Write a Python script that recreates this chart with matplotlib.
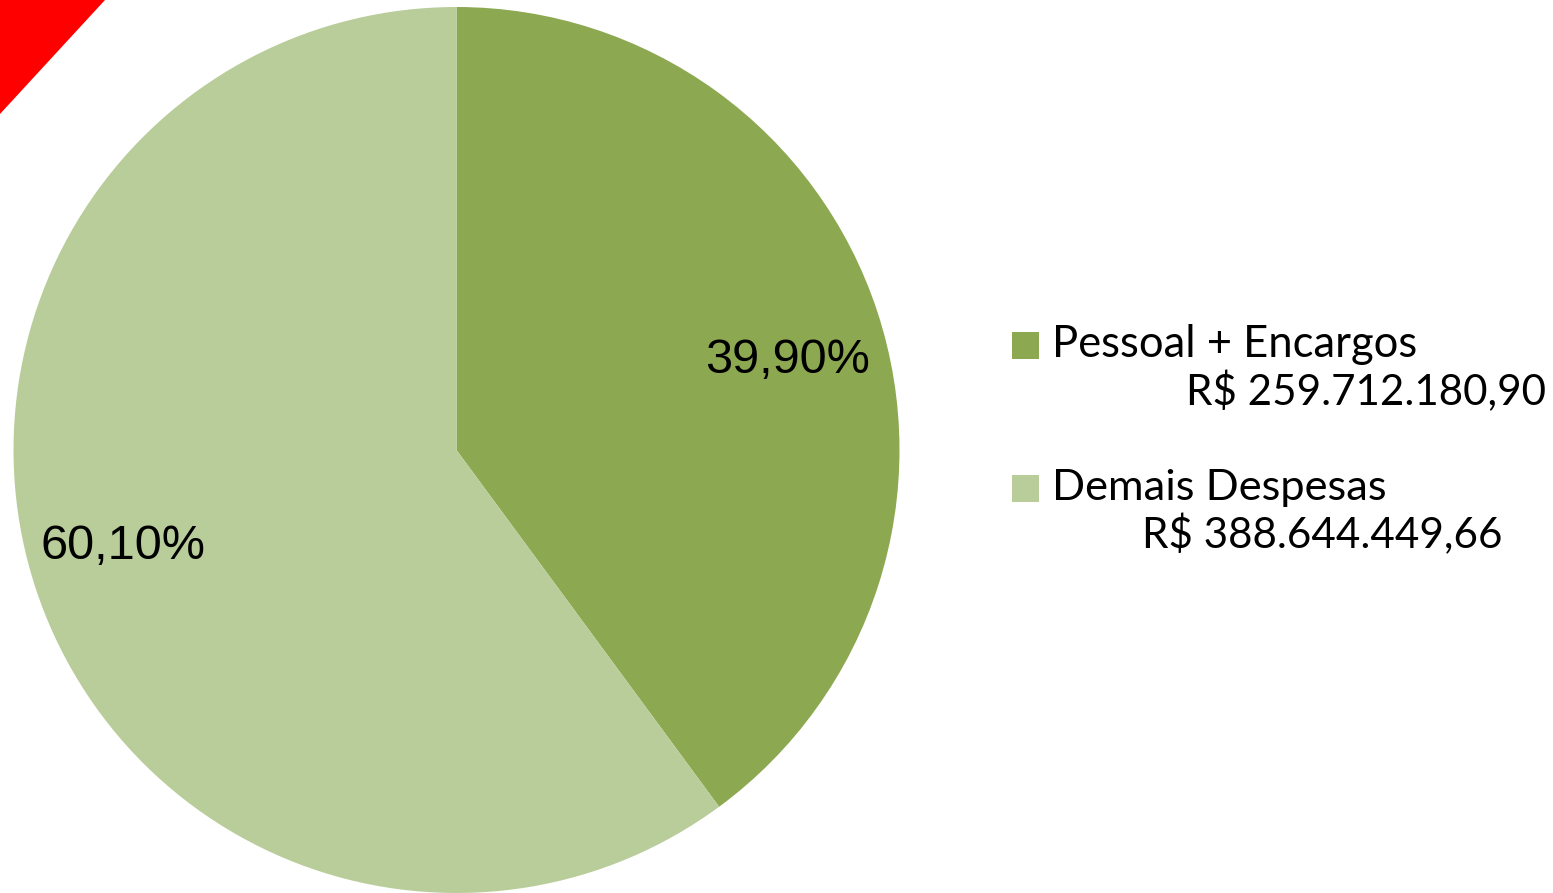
import matplotlib
matplotlib.use("Agg")
import matplotlib.pyplot as plt
from matplotlib.patches import Polygon, Rectangle

# ---- data ----
categories = ["Pessoal + Encargos", "Demais Despesas"]
amounts = ["R$ 259.712.180,90", "R$ 388.644.449,66"]
percentages = [39.90, 60.10]
pct_labels = ["39,90%", "60,10%"]
colors = ["#8CA850", "#B9CD9A"]

W, H, DPI = 1553, 893, 100
fig = plt.figure(figsize=(W / DPI, H / DPI), dpi=DPI)
fig.patch.set_facecolor("white")

# red corner triangle
fig.patches.append(Polygon([(0, 1), (105 / W, 1), (0, 1 - 114 / H)],
                           closed=True, transform=fig.transFigure,
                           facecolor="#FF0000", edgecolor="none"))

# pie
cx, cy, r = 456.5, 450, 443
ax = fig.add_axes([(cx - r) / W, (H - cy - r) / H, 2 * r / W, 2 * r / H])
wedges, _ = ax.pie(percentages, colors=colors, startangle=90, counterclock=False,
                   radius=1.0, wedgeprops=dict(linewidth=0))
ax.set_xlim(-1, 1)
ax.set_ylim(-1, 1)
ax.set_aspect("equal")
ax.axis("off")

label_pos = [(0.747, 0.202), (-0.753, -0.217)]
for (x, y), t in zip(label_pos, pct_labels):
    ax.text(x, y, t, ha="center", va="center", fontsize=35,
            family="Liberation Sans", color="black")

fig.canvas.draw()
renderer = fig.canvas.get_renderer()

def fit_text(x_px, y_px, s, target_w, size0=30, ha="left"):
    t = fig.text(x_px / W, 1 - y_px / H, s, ha=ha, va="center",
                 fontsize=size0, family="Lato", color="black")
    w = t.get_window_extent(renderer).width
    t.set_fontsize(size0 * target_w / w)
    return t

# legend
sq = 27
leg_rows = [(345, 392), (488, 535)]
line2_left = [1186, 1142]
for i in range(2):
    y1, y2 = leg_rows[i]
    fig.patches.append(Rectangle((1012 / W, 1 - (y1 + sq / 2) / H), sq / W, sq / H,
                                 transform=fig.transFigure, facecolor=colors[i],
                                 edgecolor="none"))
    fit_text(1052, y1, categories[i], 365 if i == 0 else 335)
    fit_text(line2_left[i], y2, amounts[i], 359)

fig.savefig("out.png", dpi=DPI, facecolor="white")
